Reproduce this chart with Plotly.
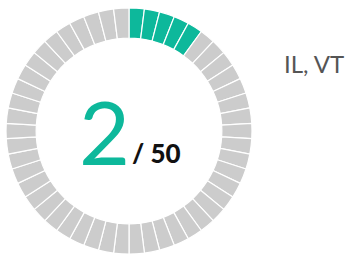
import plotly.graph_objects as go

W, H = 352, 254
total_segments = 50
highlighted = 5
count_label = "2"
total_label = "/ 50"
states_label = "IL, VT"

values = [1] * total_segments
colors = ["#0db89b"] * highlighted + ["#cccccc"] * (total_segments - highlighted)

fig = go.Figure(go.Pie(
    values=values,
    marker=dict(colors=colors, line=dict(color="white", width=1.2)),
    hole=0.755,
    sort=False,
    direction="clockwise",
    rotation=0,
    textinfo="none",
    hoverinfo="skip",
    showlegend=False,
    domain=dict(x=[6 / W, 252 / W], y=[0, 246 / H]),
))

fig.add_annotation(x=104 / W, y=1 - 131 / H, xref="paper", yref="paper",
                   xanchor="center", yanchor="middle",
                   text=count_label, showarrow=False,
                   font=dict(family="Lato", size=88, color="#0db89b", weight=400))
fig.add_annotation(x=156 / W, y=1 - 153 / H, xref="paper", yref="paper",
                   xanchor="center", yanchor="middle",
                   text=total_label, showarrow=False,
                   font=dict(family="Lato", size=26, color="#111111", weight=900))
fig.add_annotation(x=314 / W, y=1 - 63 / H, xref="paper", yref="paper",
                   xanchor="center", yanchor="middle",
                   text=states_label, showarrow=False,
                   font=dict(family="Lato", size=24, color="#555555"))

fig.update_layout(width=W, height=H, margin=dict(l=0, r=0, t=0, b=0),
                  paper_bgcolor="white", plot_bgcolor="white")
fig.write_html("out.html", config={"displayModeBar": False},
               post_script="document.body.style.margin='0';")
